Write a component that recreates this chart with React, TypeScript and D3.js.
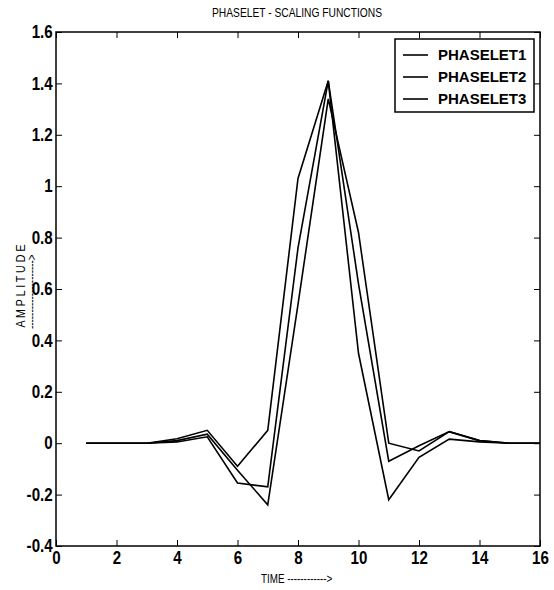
import * as d3 from "d3";
import { useEffect, useRef } from "react";

const time = [1, 2, 3, 4, 5, 6, 7, 8, 9, 10, 11, 12, 13, 14, 15, 16];

const phaselet1 = [0, 0, 0, 0.017, 0.05, -0.09, 0.05, 1.03, 1.41, 0.35, -0.22, -0.055, 0.016, 0.005, 0, 0];
const phaselet2 = [0, 0, 0, 0.005, 0.025, -0.155, -0.17, 0.76, 1.41, 0.62, -0.07, -0.01, 0.045, 0.01, 0, 0];
const phaselet3 = [0, 0, 0, 0.01, 0.035, -0.105, -0.24, 0.54, 1.34, 0.82, 0, -0.03, 0.045, 0.01, 0, 0];

const seriesNames = ["PHASELET1", "PHASELET2", "PHASELET3"];

const xTicks = [0, 2, 4, 6, 8, 10, 12, 14, 16];
const yTicks = [-0.4, -0.2, 0, 0.2, 0.4, 0.6, 0.8, 1, 1.2, 1.4, 1.6];

const font = "'Liberation Sans', Arial, sans-serif";
// no narrow face installed, so squeeze the regular one
const squeeze = "scale(0.82,1)";

function drawChart(svgElement) {
  const width = 554;
  const height = 590;
  const margin = { top: 32, right: 14, bottom: 44, left: 56 };
  const svg = d3.select(svgElement);

  svg.selectAll("*").remove();
  svg.attr("width", width).attr("height", height).attr("viewBox", `0 0 ${width} ${height}`);

  const x = d3.scaleLinear().domain([0, 16]).range([margin.left, width - margin.right]);
  const y = d3.scaleLinear().domain([-0.4, 1.6]).range([height - margin.bottom, margin.top]);

  const fmt = (d) => String(+(+d).toFixed(1));

  svg
    .append("rect")
    .attr("x", x(0))
    .attr("y", y(1.6))
    .attr("width", x(16) - x(0))
    .attr("height", y(-0.4) - y(1.6))
    .attr("fill", "none")
    .attr("stroke", "#000")
    .attr("stroke-width", 1.5);

  const styleAxis = (g) => {
    g.select(".domain").remove();
    g.selectAll(".tick line").attr("stroke", "#000").attr("stroke-width", 1);
    g.selectAll("text")
      .attr("fill", "#000")
      .attr("transform", "scale(0.84,1)")
      .style("font-family", font)
      .style("font-weight", "bold")
      .style("font-size", "18px");
  };

  svg
    .append("g")
    .attr("transform", `translate(0,${y(-0.4)})`)
    .call(d3.axisBottom(x).tickValues(xTicks).tickSize(-6).tickPadding(5).tickFormat(fmt))
    .call(styleAxis);

  svg
    .append("g")
    .attr("transform", `translate(0,${y(1.6)})`)
    .call(d3.axisTop(x).tickValues(xTicks).tickSize(-6).tickFormat(() => ""))
    .call(styleAxis);

  svg
    .append("g")
    .attr("transform", `translate(${x(0)},0)`)
    .call(d3.axisLeft(y).tickValues(yTicks).tickSize(-6).tickPadding(4).tickFormat(fmt))
    .call(styleAxis);

  svg
    .append("g")
    .attr("transform", `translate(${x(16)},0)`)
    .call(d3.axisRight(y).tickValues(yTicks).tickSize(-6).tickFormat(() => ""))
    .call(styleAxis);

  const line = d3
    .line()
    .x((d) => x(d[0]))
    .y((d) => y(d[1]));

  [phaselet1, phaselet2, phaselet3].forEach((values) => {
    svg
      .append("path")
      .datum(time.map((t, i) => [t, values[i]]))
      .attr("d", line)
      .attr("fill", "none")
      .attr("stroke", "#000")
      .attr("stroke-width", 1.6);
  });

  // title and axis labels
  svg
    .append("g")
    .attr("transform", `translate(${(x(0) + x(16)) / 2 - 1},17)`)
    .append("text")
    .attr("transform", squeeze)
    .attr("text-anchor", "middle")
    .style("font-family", font)
    .style("font-size", "12.5px")
    .text("PHASELET - SCALING FUNCTIONS");

  svg
    .append("g")
    .attr("transform", "translate(261,583)")
    .append("text")
    .attr("transform", squeeze)
    .style("font-family", font)
    .style("font-size", "12px")
    .text("TIME ------------>");

  const yLabel = svg.append("g").attr("transform", `translate(25,286) rotate(-90)`);
  yLabel
    .append("text")
    .attr("transform", squeeze)
    .attr("text-anchor", "middle")
    .style("font-family", font)
    .style("font-size", "13px")
    .text("A M P L I T U D E");
  yLabel
    .append("text")
    .attr("transform", squeeze)
    .attr("x", -7)
    .attr("y", 11)
    .attr("text-anchor", "middle")
    .attr("fill", "#000")
    .style("font-family", font)
    .style("font-size", "12px")
    .text("--------------------->");

  // legend
  const legend = svg.append("g");
  legend
    .append("rect")
    .attr("x", 395)
    .attr("y", 39)
    .attr("width", 139)
    .attr("height", 73)
    .attr("fill", "#fff")
    .attr("stroke", "#000")
    .attr("stroke-width", 1.5);

  seriesNames.forEach((name, i) => {
    const cy = 55 + i * 22;
    legend
      .append("line")
      .attr("x1", 403)
      .attr("x2", 428)
      .attr("y1", cy)
      .attr("y2", cy)
      .attr("stroke", "#000")
      .attr("stroke-width", 1.6);
    legend
      .append("text")
      .attr("x", 438)
      .attr("y", cy)
      .attr("dy", "0.36em")
      .style("font-family", font)
      .style("font-weight", "bold")
      .style("font-size", "15px")
      .text(name);
  });
}

export default function App() {
  const svgRef = useRef(null);

  useEffect(() => {
    drawChart(svgRef.current);
  }, []);

  return (
    <svg
      ref={svgRef}
      style={{ position: "absolute", left: 0, top: 0, display: "block", background: "#fff" }}
    />
  );
}
